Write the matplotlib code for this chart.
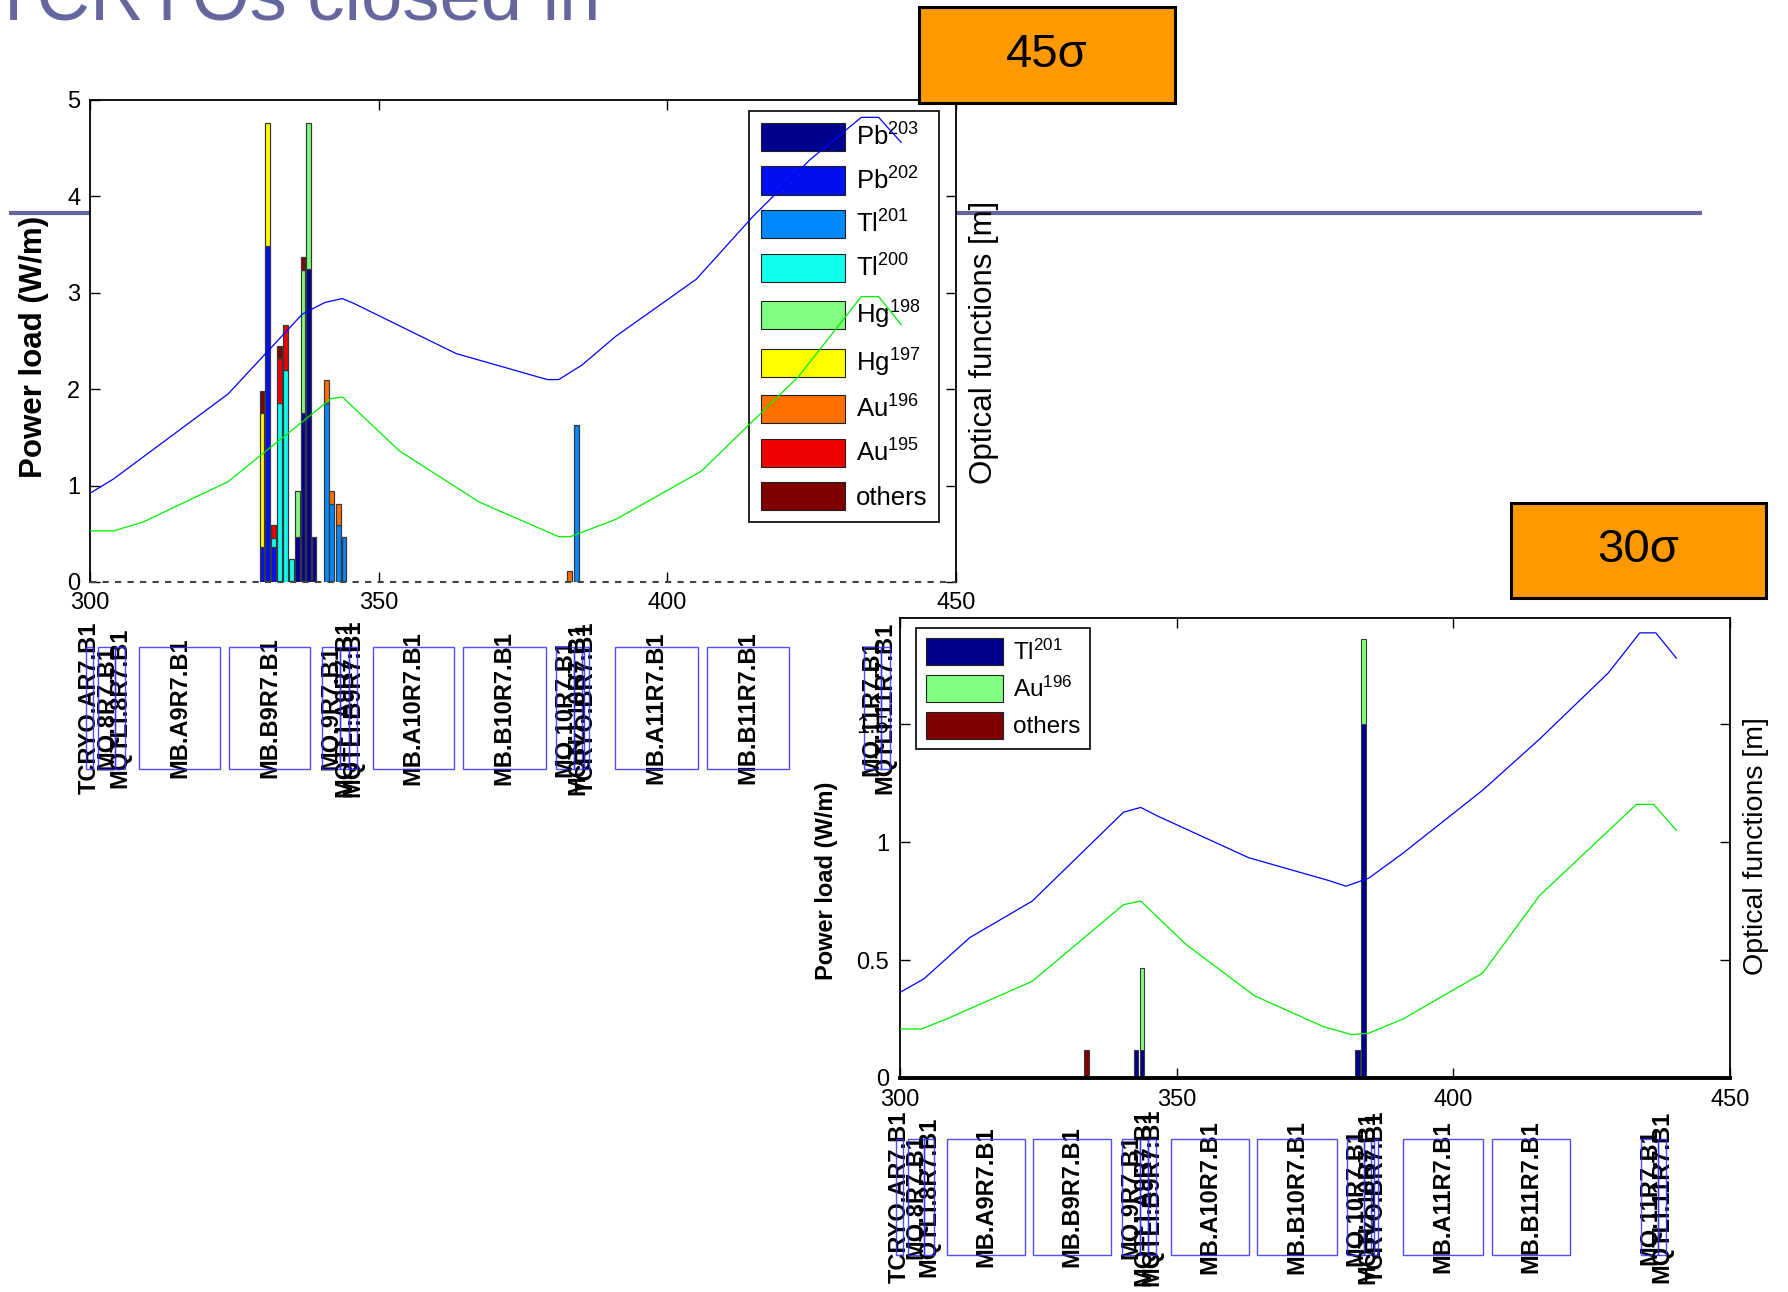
import numpy as np
import matplotlib
matplotlib.use("Agg")
import matplotlib.pyplot as plt
from matplotlib import font_manager
from matplotlib.patches import Rectangle, Patch

names = {f.name for f in font_manager.fontManager.ttflist}
narrow = "Liberation Sans Narrow" if "Liberation Sans Narrow" in names else "Liberation Sans"

plt.rcParams['font.family'] = ['Liberation Sans', 'DejaVu Sans']
plt.rcParams['mathtext.fontset'] = 'custom'
plt.rcParams['mathtext.rm'] = 'Liberation Sans'
plt.rcParams['mathtext.it'] = 'Liberation Sans:italic'
plt.rcParams['mathtext.bf'] = 'Liberation Sans:bold'

# ---- 45 sigma case: power load per 1 m bin, stacked by isotope (W/m)
pos_45 = [329.8, 330.8, 331.8, 332.9, 333.9, 334.9, 335.9, 336.9, 337.9, 338.8,
          340.9, 341.9, 343.0, 344.0, 383.1, 384.2]
pb203_45 = [0, 0, 0, 0, 0, 0, 0.47, 1.75, 3.25, 0.47, 0, 0, 0, 0, 0, 0]
pb202_45 = [0.36, 3.49, 0.36, 0, 0, 0, 0, 0, 0, 0, 0, 0, 0, 0, 0, 0]
tl201_45 = [0, 0, 0, 0, 0, 0, 0, 0, 0, 0, 1.86, 0.81, 0.59, 0.47, 0, 1.63]
tl200_45 = [0, 0, 0.10, 1.86, 2.20, 0.24, 0, 0, 0, 0, 0, 0, 0, 0, 0, 0]
hg198_45 = [0, 0, 0, 0, 0, 0, 0.47, 1.49, 1.51, 0, 0, 0, 0, 0, 0, 0]
hg197_45 = [1.39, 1.27, 0, 0, 0, 0, 0, 0, 0, 0, 0, 0, 0, 0, 0, 0]
au196_45 = [0, 0, 0, 0, 0, 0, 0, 0, 0, 0, 0.24, 0.13, 0.22, 0, 0.11, 0]
au195_45 = [0, 0, 0.13, 0.46, 0.47, 0, 0, 0, 0, 0, 0, 0, 0, 0, 0, 0]
others_45 = [0.23, 0, 0, 0.13, 0, 0, 0, 0.13, 0, 0, 0, 0, 0, 0, 0, 0]

labels_45 = ["Pb$^{203}$", "Pb$^{202}$", "Tl$^{201}$", "Tl$^{200}$", "Hg$^{198}$",
             "Hg$^{197}$", "Au$^{196}$", "Au$^{195}$", "others"]
colors_45 = ["#00008F", "#0010F0", "#0088FF", "#10FFEF", "#80FF80",
             "#FFFF00", "#FF7000", "#F00000", "#800000"]

# optical functions (drawn in power-load units of the left axis)
s_blue_45 = [300, 304.1, 323.9, 336.8, 340.7, 343.7, 345.7, 363.4, 379.2, 381.2,
             385.2, 391.1, 405.0, 414.8, 424.7, 433.6, 436.6, 440.5]
blue_45 = [0.92, 1.07, 1.95, 2.78, 2.90, 2.94, 2.89, 2.37, 2.10, 2.10,
           2.25, 2.55, 3.14, 3.79, 4.38, 4.82, 4.82, 4.56]
s_green_45 = [300, 304.1, 309.1, 323.9, 341.7, 343.7, 353.6, 367.4, 381.2, 383.2,
              391.1, 405.9, 422.7, 433.6, 436.6, 440.5]
green_45 = [0.53, 0.53, 0.62, 1.04, 1.90, 1.92, 1.36, 0.83, 0.47, 0.47,
            0.65, 1.15, 2.13, 2.96, 2.96, 2.67]

# ---- 30 sigma case
pos_30 = [333.7, 342.6, 343.7, 382.7, 383.8]
tl201_30 = [0, 0.12, 0.12, 0.117, 1.50]
au196_30 = [0, 0, 0.347, 0, 0.36]
others_30 = [0.12, 0, 0, 0, 0]
labels_30 = ["Tl$^{201}$", "Au$^{196}$", "others"]
colors_30 = ["#00008F", "#80FF80", "#800000"]

s_blue_30 = [300, 304.3, 312.6, 323.9, 340.4, 343.5, 346.6, 363.0, 377.5, 380.6,
             384.7, 390.9, 405.3, 415.6, 428.0, 433.7, 436.6, 440.3]
blue_30 = [0.363, 0.42, 0.595, 0.75, 1.127, 1.147, 1.11, 0.934, 0.837, 0.813,
           0.847, 0.953, 1.22, 1.437, 1.717, 1.887, 1.887, 1.78]
s_green_30 = [300, 303.9, 308.4, 323.9, 340.4, 343.5, 351.7, 364.1, 376.5, 381.6,
              384.7, 390.9, 405.3, 415.6, 433.1, 436.2, 440.3]
green_30 = [0.208, 0.208, 0.25, 0.41, 0.735, 0.75, 0.566, 0.348, 0.218, 0.184,
            0.19, 0.25, 0.445, 0.774, 1.16, 1.16, 1.05]

# ---- machine layout (start / end in m)
elem_names = ["TCRYO.AR7.B1", "MQ.8R7.B1", "MQTLI.8R7.B1", "MB.A9R7.B1", "MB.B9R7.B1",
              "MQ.9R7.B1", "MQTLI.A9R7.B1", "MQTLI.B9R7.B1", "MB.A10R7.B1", "MB.B10R7.B1",
              "MQ.10R7.B1", "MQTLI.10R7.B1", "TCRYO.BR7.B1", "MB.A11R7.B1", "MB.B11R7.B1",
              "MQ.11R7.B1", "MQTLI.11R7.B1"]
elem_start = [299.3, 301.4, 304.3, 308.5, 324.1, 340.1, 343.3, 344.9, 349.0, 364.6,
              380.8, 383.8, 385.6, 390.9, 406.9, 434.0, 437.0]
elem_end = [300.5, 304.3, 306.1, 322.5, 338.1, 343.3, 344.9, 346.2, 363.0, 378.9,
            383.8, 385.2, 386.4, 405.3, 421.1, 437.0, 438.5]

W, H = 1788, 1292
fig = plt.figure(figsize=(W / 100, H / 100), dpi=100)


def fx(px):
    return px / W


def fy(py):
    return 1 - py / H


# slide decoration: background line and title
bg = fig.add_axes([0, 0, 1, 1], zorder=-5)
bg.set_xlim(0, W)
bg.set_ylim(H, 0)
bg.axis("off")
bg.plot([9, 1702], [213, 213], color="#66669E", lw=3, solid_capstyle="butt")
fig.text(fx(-9), fy(19), "TCRYOs closed in", color="#66669E", fontsize=53.5, va="baseline")


def draw_layout(rect, size):
    axl = fig.add_axes(rect)
    axl.set_xlim(300, 450)
    axl.set_ylim(0, 1)
    axl.axis("off")
    for name, s, e in zip(elem_names, elem_start, elem_end):
        axl.text((s + e) / 2, 0.5, name, rotation=90, ha="center", va="center",
                 fontsize=size, fontweight="bold", clip_on=False)
        axl.add_patch(Rectangle((s, 0), e - s, 1, fill=False, edgecolor="#3030FF",
                                lw=1, alpha=0.85, clip_on=False, zorder=3))


def style_axes(ax, labelsize, pad):
    ax.set_xlim(300, 450)
    ax.set_xticks([300, 350, 400, 450])
    ax.tick_params(direction="in", length=7, width=1, top=True, right=True,
                   labelsize=labelsize, pad=pad)
    for sp in ax.spines.values():
        sp.set_linewidth(1.3)


# ---------------- top chart (45 sigma)
ax1 = fig.add_axes([fx(90), fy(582), fx(866), 482 / H])
series_45 = [pb203_45, pb202_45, tl201_45, tl200_45, hg198_45, hg197_45,
             au196_45, au195_45, others_45]
bottom = np.zeros(len(pos_45))
for vals, c in zip(series_45, colors_45):
    vals = np.array(vals)
    mask = vals > 0
    ax1.bar(np.array(pos_45)[mask], vals[mask], width=0.85, bottom=bottom[mask],
            color=c, edgecolor="#383838", lw=0.9, zorder=2)
    bottom += vals
ax1.plot(s_blue_45, blue_45, color="#0000FF", lw=0.9, zorder=4)
ax1.plot(s_green_45, green_45, color="#00EE00", lw=0.9, zorder=4)
ax1.axhline(0, color="#444444", ls=(0, (3, 3)), lw=1.5, zorder=3, clip_on=False)
ax1.spines["bottom"].set_visible(False)
ax1.set_ylim(0, 5)
ax1.set_yticks([0, 1, 2, 3, 4, 5])
style_axes(ax1, 17, 7)

handles = [Patch(facecolor=c, edgecolor="#202020", lw=0.8) for c in colors_45]
leg = ax1.legend(handles, labels_45, loc="upper left",
                 bbox_to_anchor=(fx(749), fy(111)), bbox_transform=fig.transFigure,
                 fontsize=18.5, handlelength=3.3, handleheight=1.3, labelspacing=0.62,
                 handletextpad=0.4, borderpad=0.45, borderaxespad=0, fancybox=False,
                 framealpha=1, edgecolor="black")
leg.get_frame().set_linewidth(1.2)
leg.set_zorder(1)

fig.text(fx(34), fy(347), "Power load (W/m)", rotation=90, ha="center", va="center",
         fontsize=22.5, fontweight="bold")
fig.text(fx(984), fy(342), "Optical functions [m]", rotation=90, ha="center",
         va="center", fontsize=22.5)

draw_layout([fx(90), fy(769), fx(866), 122 / H], 17)

# ---------------- bottom chart (30 sigma)
ax2 = fig.add_axes([fx(900), fy(1078), fx(830), 460 / H])
series_30 = [tl201_30, au196_30, others_30]
bottom = np.zeros(len(pos_30))
for vals, c in zip(series_30, colors_30):
    vals = np.array(vals)
    mask = vals > 0
    ax2.bar(np.array(pos_30)[mask], vals[mask], width=0.8, bottom=bottom[mask],
            color=c, edgecolor="#383838", lw=0.8, zorder=2)
    bottom += vals
ax2.plot(s_blue_30, blue_30, color="#0000FF", lw=0.9, zorder=4)
ax2.plot(s_green_30, green_30, color="#00EE00", lw=0.9, zorder=4)
ax2.set_ylim(0, 1.95)
ax2.set_yticks([0, 0.5, 1, 1.5])
ax2.set_yticklabels(["0", "0.5", "1", "1.5"])
style_axes(ax2, 17, 8)
ax2.spines["bottom"].set_linewidth(2.8)

handles = [Patch(facecolor=c, edgecolor="#202020", lw=0.8) for c in colors_30]
leg2 = ax2.legend(handles, labels_30, loc="upper left",
                  bbox_to_anchor=(fx(916), fy(628)), bbox_transform=fig.transFigure,
                  fontsize=17.5, handlelength=3.2, handleheight=1.35, labelspacing=0.4,
                  handletextpad=0.4, borderpad=0.4, borderaxespad=0, fancybox=False,
                  framealpha=1, edgecolor="black")
leg2.get_frame().set_linewidth(1.2)
leg2.set_zorder(1)

fig.text(fx(826), fy(881), "Power load (W/m)", rotation=90, ha="center", va="center",
         fontsize=17, fontweight="bold")
fig.text(fx(1756), fy(846), "Optical functions [m]", rotation=90, ha="center",
         va="center", fontsize=20.5)

draw_layout([fx(900), fy(1255), fx(830), 116 / H], 17)

# ---------------- sigma boxes
for (x0, y0, x1, y1), txt, fam in [((919, 7, 1175, 103), "45σ", narrow),
                                   ((1511, 503, 1766, 598), "30σ", "Liberation Sans")]:
    fig.add_artist(Rectangle((fx(x0), fy(y1)), (x1 - x0) / W, (y1 - y0) / H,
                             transform=fig.transFigure, facecolor="#FF9900",
                             edgecolor="black", lw=2.2, zorder=10))
    fig.text(fx((x0 + x1) / 2), fy((y0 + y1) / 2), txt, ha="center", va="center",
             fontsize=34, family=[fam, "DejaVu Sans"], zorder=11)

fig.savefig("out.png", dpi=100)
